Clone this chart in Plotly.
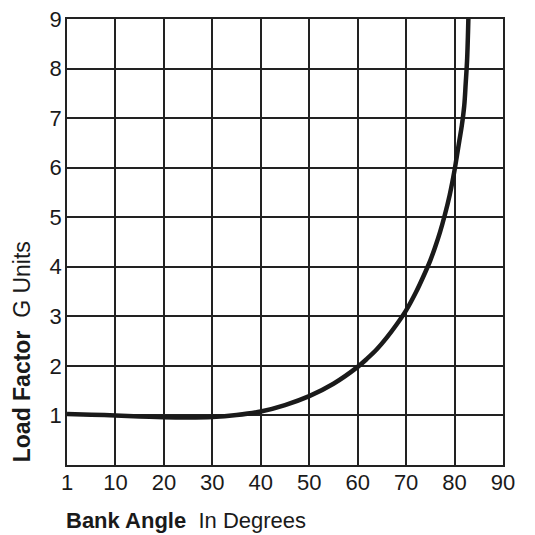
import plotly.graph_objects as go

# Data
bank_angle = [0, 5, 10, 15, 20, 25, 30, 35, 40, 45, 50, 55, 60, 62, 64, 66, 68, 70, 72, 74,
              75, 76, 77, 78, 79, 80, 80.5, 81, 81.5, 82, 82.3, 82.6, 82.85]
load_factor = [1.03, 1.015, 1.0, 0.98, 0.965, 0.96, 0.97, 1.01, 1.08, 1.21, 1.39, 1.64, 1.98, 2.15, 2.34, 2.57, 2.83, 3.12, 3.48, 3.9,
               4.13, 4.4, 4.7, 5.05, 5.45, 5.95, 6.25, 6.55, 6.85, 7.25, 7.7, 8.2, 9.0]

x_tickvals = [0, 10, 20, 30, 40, 50, 60, 70, 80, 90]
x_ticktext = ["1", "10", "20", "30", "40", "50", "60", "70", "80", "90"]
y_tickvals = [1, 2, 3, 4, 5, 6, 7, 8, 9]

FONT = "Liberation Sans, Arial, Helvetica, sans-serif"
INK = "#1a1a1a"

fig = go.Figure()
fig.add_trace(go.Scatter(
    x=bank_angle, y=load_factor, mode="lines",
    line=dict(color=INK, width=4.5, shape="spline", smoothing=1.0),
    hoverinfo="skip", showlegend=False,
))

fig.update_layout(
    width=527, height=527,
    margin=dict(l=59, r=32, t=11, b=70, autoexpand=False),
    paper_bgcolor="white", plot_bgcolor="white",
    font=dict(family=FONT, color=INK, size=22),
    xaxis=dict(
        range=[0, 90], tickvals=x_tickvals, ticktext=x_ticktext,
        showgrid=True, gridcolor="#222", gridwidth=1.5,
        showline=True, linecolor="#222", linewidth=1.5, mirror=True,
        zeroline=False, ticks="", automargin=False,
        ticklabeloverflow="allow", ticklabelstandoff=-3,
        tickfont=dict(size=22, family=FONT, color=INK),
        fixedrange=True,
    ),
    yaxis=dict(
        range=[0, 9], tickvals=y_tickvals,
        showgrid=True, gridcolor="#222", gridwidth=1.5,
        showline=True, linecolor="#222", linewidth=1.5, mirror=True,
        zeroline=False, ticks="", automargin=False,
        ticklabeloverflow="allow", ticklabelstandoff=-1,
        tickfont=dict(size=22, family=FONT, color=INK),
        fixedrange=True,
    ),
    annotations=[
        dict(text="<b>Bank Angle</b>&nbsp; In Degrees", xref="paper", yref="paper",
             x=-0.008, y=-0.125, xanchor="left", yanchor="middle", showarrow=False,
             font=dict(size=22, family=FONT, color=INK)),
        dict(text="<b>Load Factor</b>&nbsp; G Units", xref="paper", yref="paper",
             x=-0.103, y=0.253, xanchor="center", yanchor="middle", showarrow=False,
             textangle=-90, font=dict(size=23, family=FONT, color=INK)),
    ],
)

fig.write_html("out.html")
